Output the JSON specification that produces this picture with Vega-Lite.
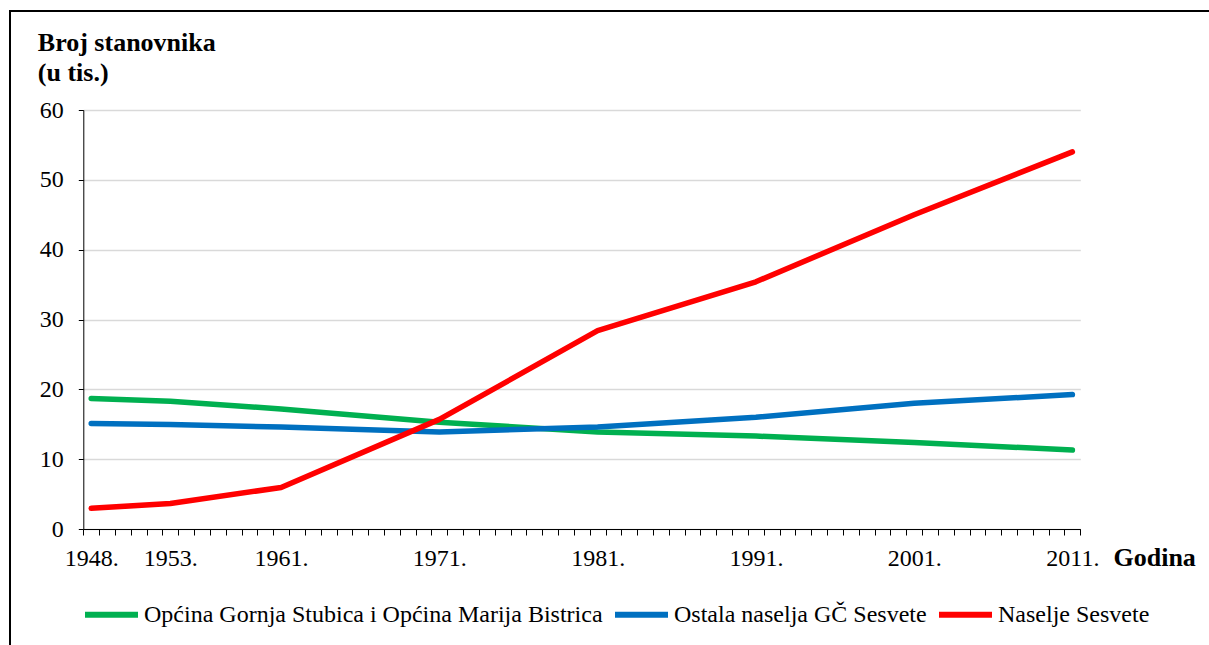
{
  "$schema": "https://vega.github.io/schema/vega-lite/v6.json",
  "autosize": {"type": "none"},
  "padding": {"left": 10, "top": 11, "right": 0, "bottom": 0},
  "width": 1205,
  "height": 640,
  "background": "white",
  "config": {
    "view": {"stroke": "black", "strokeWidth": 2},
    "font": "Liberation Serif, Times New Roman, serif"
  },
  "data": {
    "values": [
      {"series": "Općina Gornja Stubica i Općina Marija Bistrica", "year": 1948, "value": 18.7},
      {"series": "Općina Gornja Stubica i Općina Marija Bistrica", "year": 1953, "value": 18.3},
      {"series": "Općina Gornja Stubica i Općina Marija Bistrica", "year": 1961, "value": 17.2},
      {"series": "Općina Gornja Stubica i Općina Marija Bistrica", "year": 1971, "value": 15.3},
      {"series": "Općina Gornja Stubica i Općina Marija Bistrica", "year": 1981, "value": 13.9},
      {"series": "Općina Gornja Stubica i Općina Marija Bistrica", "year": 1991, "value": 13.3},
      {"series": "Općina Gornja Stubica i Općina Marija Bistrica", "year": 2001, "value": 12.4},
      {"series": "Općina Gornja Stubica i Općina Marija Bistrica", "year": 2011, "value": 11.3},
      {"series": "Ostala naselja GČ Sesvete", "year": 1948, "value": 15.1},
      {"series": "Ostala naselja GČ Sesvete", "year": 1953, "value": 14.95},
      {"series": "Ostala naselja GČ Sesvete", "year": 1961, "value": 14.6},
      {"series": "Ostala naselja GČ Sesvete", "year": 1971, "value": 13.9},
      {"series": "Ostala naselja GČ Sesvete", "year": 1981, "value": 14.6},
      {"series": "Ostala naselja GČ Sesvete", "year": 1991, "value": 16.0},
      {"series": "Ostala naselja GČ Sesvete", "year": 2001, "value": 18.0},
      {"series": "Ostala naselja GČ Sesvete", "year": 2011, "value": 19.25},
      {"series": "Naselje Sesvete", "year": 1948, "value": 2.96},
      {"series": "Naselje Sesvete", "year": 1953, "value": 3.65},
      {"series": "Naselje Sesvete", "year": 1961, "value": 5.95},
      {"series": "Naselje Sesvete", "year": 1971, "value": 15.7},
      {"series": "Naselje Sesvete", "year": 1981, "value": 28.4},
      {"series": "Naselje Sesvete", "year": 1991, "value": 35.4},
      {"series": "Naselje Sesvete", "year": 2001, "value": 45.0},
      {"series": "Naselje Sesvete", "year": 2011, "value": 54.0}
    ]
  },
  "mark": {"type": "line", "strokeWidth": 5.5, "strokeCap": "round", "strokeJoin": "round"},
  "encoding": {
    "x": {
      "field": "year",
      "type": "ordinal",
      "scale": {
        "type": "band",
        "paddingInner": 0,
        "paddingOuter": 0,
        "range": [73.3, 1070.3],
        "domain": [1948, 1949, 1950, 1951, 1952, 1953, 1954, 1955, 1956, 1958, 1959, 1960, 1961, 1962, 1963, 1964, 1965, 1966, 1967, 1968, 1969, 1970, 1971, 1972, 1973, 1974, 1975, 1976, 1977, 1978, 1979, 1980, 1981, 1982, 1983, 1984, 1985, 1986, 1987, 1988, 1989, 1990, 1991, 1992, 1993, 1994, 1995, 1996, 1997, 1998, 1999, 2000, 2001, 2002, 2003, 2004, 2005, 2006, 2007, 2008, 2009, 2010, 2011]
      },
      "axis": {
        "offset": -122,
        "tickBand": "extent",
        "tickSize": 6,
        "tickColor": "black",
        "domainColor": "black",
        "grid": false,
        "labelAngle": 0,
        "labelOverlap": false,
        "labelExpr": "indexof(['1948','1953','1961','1971','1981','1991','2001','2011'], datum.label) >= 0 ? datum.label + '.' : ''",
        "labelFont": "Liberation Serif, Times New Roman, serif",
        "labelFontSize": 24,
        "labelColor": "black",
        "labelPadding": 11,
        "title": "Godina",
        "titleFont": "Liberation Serif, Times New Roman, serif",
        "titleFontSize": 26,
        "titleFontWeight": "bold",
        "titleColor": "black",
        "titleAnchor": "start",
        "titleAlign": "left",
        "titleBaseline": "alphabetic",
        "titleX": 1103,
        "titleY": 36
      }
    },
    "y": {
      "field": "value",
      "type": "quantitative",
      "scale": {"domain": [0, 60], "range": [518, 99], "nice": false},
      "axis": {
        "offset": -73.3,
        "values": [0, 10, 20, 30, 40, 50, 60],
        "grid": true,
        "gridColor": "#d9d9d9",
        "gridWidth": 1.5,
        "tickSize": 5,
        "tickColor": "black",
        "domainColor": "black",
        "labelFont": "Liberation Serif, Times New Roman, serif",
        "labelFontSize": 24,
        "labelColor": "black",
        "labelPadding": 15,
        "title": ["Broj stanovnika", "(u tis.)"],
        "titleFont": "Liberation Serif, Times New Roman, serif",
        "titleFontSize": 26,
        "titleFontWeight": "bold",
        "titleColor": "black",
        "titleAngle": 0,
        "titleAlign": "left",
        "titleBaseline": "alphabetic",
        "titleLineHeight": 30,
        "titleX": -46,
        "titleY": 39
      }
    },
    "color": {
      "field": "series",
      "type": "nominal",
      "sort": null,
      "scale": {
        "domain": ["Općina Gornja Stubica i Općina Marija Bistrica", "Ostala naselja GČ Sesvete", "Naselje Sesvete"],
        "range": ["#00B050", "#0070C0", "#FF0000"]
      },
      "legend": {
        "orient": "none",
        "direction": "horizontal",
        "legendX": 72,
        "legendY": 574,
        "title": null,
        "padding": 0,
        "symbolType": "stroke",
        "symbolSize": 2809,
        "symbolStrokeWidth": 6,
        "labelFont": "Liberation Serif, Times New Roman, serif",
        "labelFontSize": 24,
        "labelColor": "black",
        "labelLimit": 0,
        "labelOffset": 3,
        "columnPadding": 0
      }
    }
  }
}
